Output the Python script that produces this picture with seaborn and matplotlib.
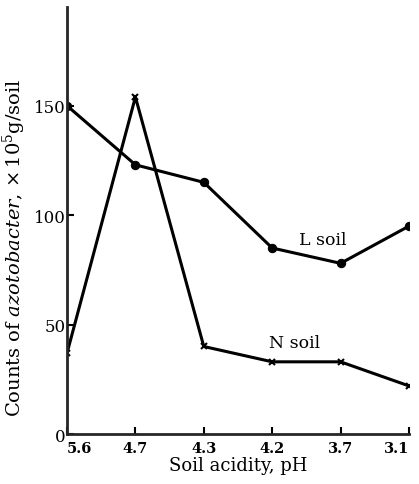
import seaborn as sns
import pandas as pd
import matplotlib.pyplot as plt

# soil acidity categories (equally spaced on the axis)
ph_labels = ['5.6', '4.7', '4.3', '4.2', '3.7', '3.1']
l_soil = [150, 123, 115, 85, 78, 95]
n_soil = [37, 154, 40, 33, 33, 22]

df = pd.DataFrame({
    'pos': list(range(len(ph_labels))) * 2,
    'count': l_soil + n_soil,
    'soil': ['L soil'] * len(ph_labels) + ['N soil'] * len(ph_labels),
})

sns.set_style('ticks')
plt.rcParams['font.family'] = ['DejaVu Serif']
plt.rcParams['mathtext.fontset'] = 'dejavuserif'
plt.rcParams['text.color'] = 'black'
plt.rcParams['axes.labelcolor'] = 'black'
plt.rcParams['xtick.color'] = 'black'
plt.rcParams['ytick.color'] = 'black'

fig = plt.figure(figsize=(4.19, 4.85), dpi=100)
ax = fig.add_axes([0.16, 0.103, 0.816, 0.88])

sns.lineplot(data=df[df.soil == 'L soil'], x='pos', y='count', ax=ax,
             color='black', lw=2.2, marker='o', markersize=6,
             markeredgecolor='black')
sns.lineplot(data=df[df.soil == 'N soil'], x='pos', y='count', ax=ax,
             color='black', lw=2.2, marker='x', markersize=4,
             markeredgecolor='black', markeredgewidth=1.5)

ax.text(3.74, 89, 'L soil', fontsize=12.5, ha='center', va='center')
ax.text(3.33, 42, 'N soil', fontsize=12.5, ha='center', va='center')

ax.set_xlim(0, 5)
ax.set_ylim(0, 195)
ax.set_xticks(range(len(ph_labels)))
ax.set_xticklabels(ph_labels, fontsize=10.5, fontweight='bold')
ax.set_yticks([0, 50, 100, 150])
ax.set_yticklabels(['0', '50', '100', '150'], fontsize=12)
ax.tick_params(direction='in', length=5, width=1.5)
ax.tick_params(axis='x', pad=5)
ax.tick_params(axis='y', pad=1)
# keep the end labels inside the picture
ax.get_xticklabels()[-1].set_horizontalalignment('right')
ax.get_xticklabels()[0].set_horizontalalignment('left')

ax.set_xlabel('Soil acidity, pH', fontsize=13, labelpad=1)
ax.set_ylabel(r'Counts of $\it{azotobacter}$, $\times\,10^5$g/soil', fontsize=14, labelpad=1)
ax.yaxis.set_label_coords(-0.115, 0.44)

sns.despine(ax=ax)
for s in ['left', 'bottom']:
    ax.spines[s].set_linewidth(2)

fig.savefig('out.png', dpi=100)
